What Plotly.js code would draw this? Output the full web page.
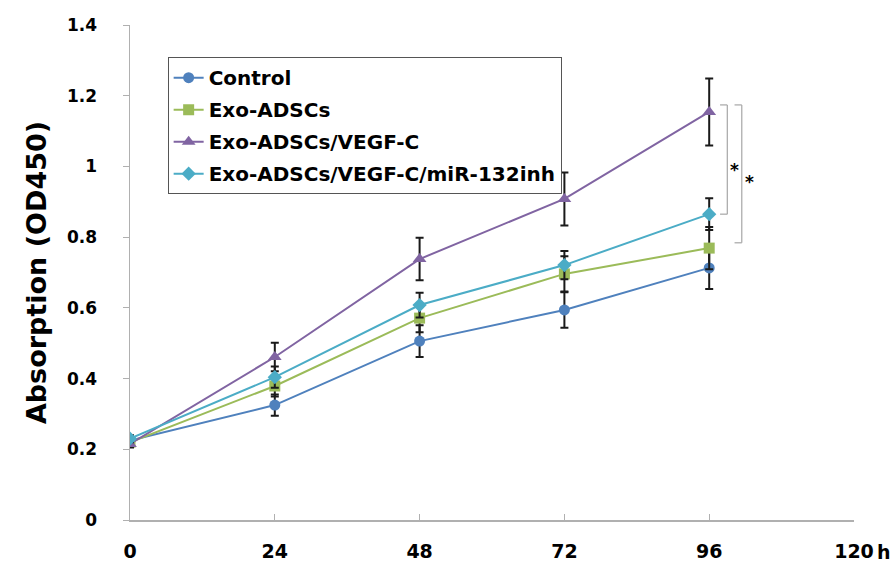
<!DOCTYPE html>
<html><head><meta charset="utf-8">
<script src="https://cdn.plot.ly/plotly-3.0.1.min.js"></script>
<style>body{margin:0;background:#fff}#chart{width:896px;height:563px}</style>
</head><body><div id="chart"></div>
<script>
const hours = [0, 24, 48, 72, 96];
const seriesNames = ["Control", "Exo-ADSCs", "Exo-ADSCs/VEGF-C", "Exo-ADSCs/VEGF-C/miR-132inh"];
const control = [0.225, 0.325, 0.506, 0.594, 0.713];
const controlErr = [0.01, 0.03, 0.045, 0.05, 0.06];
const exo = [0.22, 0.379, 0.571, 0.696, 0.769];
const exoErr = [0.01, 0.03, 0.04, 0.05, 0.06];
const vegf = [0.215, 0.461, 0.738, 0.908, 1.154];
const vegfErr = [0.01, 0.04, 0.06, 0.075, 0.095];
const inh = [0.23, 0.404, 0.608, 0.721, 0.865];
const inhErr = [0.01, 0.03, 0.035, 0.04, 0.045];
const xTickVals = [0, 24, 48, 72, 96, 120];
const xTickText = ["0", "24", "48", "72", "96", "120"];
const yTickVals = [0, 0.2, 0.4, 0.6, 0.8, 1, 1.2, 1.4];
const yTickText = ["0", "0.2", "0.4", "0.6", "0.8", "1", "1.2", "1.4"];

const colors = ["#4f81bd", "#9bbb59", "#8064a2", "#4bacc6"];
const symbols = ["circle", "square", "triangle-up", "diamond"];
const ys = [control, exo, vegf, inh];
const errs = [controlErr, exoErr, vegfErr, inhErr];

const traces = ys.map((y, i) => ({
  x: hours, y: y, name: seriesNames[i], type: "scatter", mode: "lines+markers",
  legendgroup: "g" + i,
  line: {color: colors[i], width: 2},
  marker: {color: colors[i], symbol: symbols[i], size: i === 2 ? 12 : 11},
  error_y: {type: "data", array: errs[i], visible: true, color: "#1a1a1a", thickness: 2, width: 4}
}));

const bold = {family: "DejaVu Sans, sans-serif", color: "#000", weight: "bold"};
const shapes = [];
const annotations = [];
function bracket(xv, y0, y1, xs) {
  const line = {color: "#a6a6a6", width: 1.2};
  shapes.push({type: "line", xref: "x", yref: "y", x0: xv, x1: xv, y0: y0, y1: y1, line: line});
  shapes.push({type: "line", xref: "x", yref: "y", x0: xv - xs, x1: xv, y0: y0, y1: y0, line: line});
  shapes.push({type: "line", xref: "x", yref: "y", x0: xv - xs, x1: xv, y0: y1, y1: y1, line: line});
}
bracket(99.0, inh[4], vegf[4] + 0.02, 1.2);
bracket(101.4, exo[4] + 0.015, vegf[4] + 0.02, 1.2);
annotations.push({x: 100.2, y: 0.99, xref: "x", yref: "y", text: "*", showarrow: false,
  font: Object.assign({}, bold, {size: 17})});
annotations.push({x: 102.6, y: 0.955, xref: "x", yref: "y", text: "*", showarrow: false,
  font: Object.assign({}, bold, {size: 17})});
annotations.push({x: 120, y: 0, xref: "x", yref: "y", text: "h", showarrow: false, xshift: 30, yshift: -32,
  font: Object.assign({}, bold, {size: 19})});

const layout = {
  width: 896, height: 563,
  margin: {l: 130, r: 42, t: 25, b: 43},
  paper_bgcolor: "#fff", plot_bgcolor: "#fff",
  showlegend: true,
  legend: {x: 0.052, y: 0.935, xanchor: "left", yanchor: "top", bgcolor: "#fff",
    bordercolor: "#555", borderwidth: 1, tracegroupgap: 3,
    font: Object.assign({}, bold, {size: 20})},
  xaxis: {range: [0, 120], tickvals: xTickVals, ticktext: xTickText, showgrid: false, zeroline: false,
    showline: true, linecolor: "#b0b0b0", linewidth: 1.5, ticks: "inside", ticklen: 6, tickcolor: "#b0b0b0",
    ticklabelstandoff: 14, tickfont: Object.assign({}, bold, {size: 19})},
  yaxis: {range: [0, 1.4], tickvals: yTickVals, ticktext: yTickText, showgrid: false, zeroline: false,
    showline: true, linecolor: "#b0b0b0", linewidth: 1.5, ticks: "outside", ticklen: 6, tickcolor: "#b0b0b0",
    ticklabelstandoff: 22, tickfont: Object.assign({}, bold, {size: 17})},
  shapes: shapes, annotations: annotations
};
layout.yaxis.title = {text: "Absorption (OD450)", standoff: 12, font: Object.assign({}, bold, {size: 27})};
Plotly.newPlot("chart", traces, layout, {displayModeBar: false, staticPlot: true});
</script></body></html>
